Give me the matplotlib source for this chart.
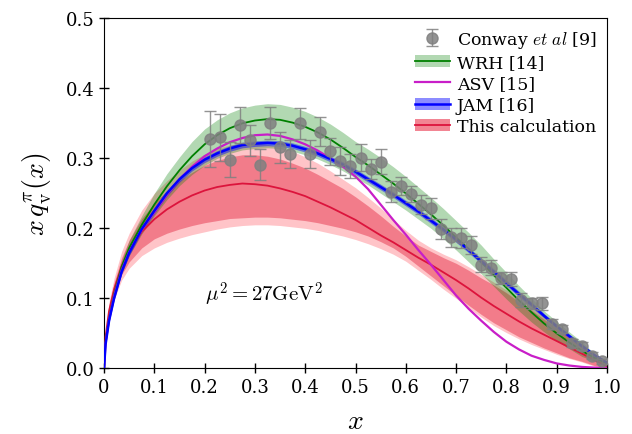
import matplotlib
matplotlib.use("Agg")
import matplotlib.pyplot as plt
from matplotlib.lines import Line2D
from matplotlib.patches import Patch

plt.rcParams["font.family"] = ["DejaVu Serif"]
plt.rcParams["mathtext.fontset"] = "cm"

# Conway et al. data
x_data = [0.21, 0.23, 0.25, 0.27, 0.29, 0.31, 0.33, 0.35, 0.37, 0.39,
          0.41, 0.43, 0.45, 0.47, 0.49, 0.51, 0.53, 0.55, 0.57, 0.59,
          0.61, 0.63, 0.65, 0.67, 0.69, 0.71, 0.73, 0.75, 0.77, 0.79,
          0.81, 0.83, 0.85, 0.87, 0.89, 0.91, 0.93, 0.95, 0.97, 0.99]
y_data = [0.327, 0.330, 0.298, 0.348, 0.326, 0.291, 0.351, 0.316, 0.306, 0.350,
          0.306, 0.338, 0.310, 0.296, 0.289, 0.301, 0.285, 0.295, 0.252, 0.261,
          0.249, 0.234, 0.229, 0.199, 0.187, 0.186, 0.176, 0.148, 0.144, 0.129,
          0.128, 0.098, 0.093, 0.093, 0.063, 0.056, 0.036, 0.032, 0.018, 0.010]
y_err = [0.040, 0.034, 0.025, 0.026, 0.022, 0.022, 0.023, 0.022, 0.020, 0.022,
         0.020, 0.021, 0.019, 0.020, 0.017, 0.019, 0.014, 0.018, 0.015, 0.013,
         0.012, 0.014, 0.015, 0.014, 0.014, 0.014, 0.013, 0.011, 0.011, 0.009,
         0.010, 0.010, 0.008, 0.009, 0.007, 0.006, 0.006, 0.006, 0.005, 0.004]

# common x grid for the curves
x_grid = [0.0, 0.003, 0.01, 0.02, 0.035, 0.05, 0.075, 0.1, 0.125, 0.15, 0.175,
          0.2, 0.225, 0.25, 0.275, 0.3, 0.325, 0.35, 0.375, 0.4, 0.425, 0.45,
          0.475, 0.5, 0.525, 0.55, 0.575, 0.6, 0.625, 0.65, 0.675, 0.7, 0.725,
          0.75, 0.775, 0.8, 0.825, 0.85, 0.875, 0.9, 0.925, 0.95, 0.975, 1.0]

# WRH
wrh_c = [0.0, 0.038, 0.072, 0.106, 0.145, 0.172, 0.205, 0.234, 0.260, 0.283, 0.303,
         0.320, 0.333, 0.343, 0.350, 0.354, 0.356, 0.355, 0.351, 0.345, 0.337, 0.327,
         0.315, 0.302, 0.290, 0.277, 0.264, 0.250, 0.235, 0.220, 0.204, 0.187, 0.170,
         0.152, 0.133, 0.115, 0.097, 0.080, 0.064, 0.050, 0.037, 0.025, 0.015, 0.007]
wrh_lo = [0.0, 0.035, 0.067, 0.099, 0.136, 0.161, 0.192, 0.218, 0.241, 0.261, 0.277,
          0.290, 0.300, 0.307, 0.312, 0.314, 0.315, 0.314, 0.310, 0.305, 0.299, 0.291,
          0.282, 0.272, 0.262, 0.250, 0.238, 0.226, 0.213, 0.200, 0.185, 0.169, 0.152,
          0.135, 0.117, 0.099, 0.082, 0.066, 0.052, 0.039, 0.028, 0.017, 0.010, 0.004]
wrh_hi = [0.0, 0.041, 0.077, 0.113, 0.154, 0.183, 0.218, 0.250, 0.278, 0.302, 0.324,
          0.342, 0.355, 0.365, 0.372, 0.376, 0.378, 0.377, 0.373, 0.367, 0.359, 0.349,
          0.337, 0.324, 0.313, 0.301, 0.288, 0.274, 0.259, 0.244, 0.228, 0.211, 0.194,
          0.176, 0.156, 0.137, 0.118, 0.100, 0.082, 0.067, 0.052, 0.038, 0.021, 0.010]

# ASV
asv_c = [0.0, 0.036, 0.070, 0.103, 0.140, 0.166, 0.198, 0.223, 0.248, 0.270, 0.288,
         0.303, 0.314, 0.323, 0.329, 0.333, 0.334, 0.332, 0.327, 0.320, 0.311, 0.300,
         0.288, 0.274, 0.256, 0.234, 0.212, 0.191, 0.169, 0.148, 0.126, 0.104, 0.085,
         0.068, 0.052, 0.038, 0.027, 0.018, 0.012, 0.007, 0.004, 0.002, 0.001, 0.0]

# JAM
jam_c = [0.0, 0.034, 0.068, 0.100, 0.138, 0.165, 0.199, 0.225, 0.250, 0.270, 0.286,
         0.298, 0.307, 0.314, 0.319, 0.321, 0.322, 0.321, 0.318, 0.313, 0.307, 0.299,
         0.291, 0.281, 0.270, 0.259, 0.248, 0.236, 0.224, 0.211, 0.198, 0.184, 0.169,
         0.153, 0.138, 0.122, 0.106, 0.091, 0.075, 0.060, 0.046, 0.032, 0.019, 0.008]
jam_lo = [0.0, 0.032, 0.065, 0.097, 0.135, 0.161, 0.195, 0.221, 0.246, 0.266, 0.282,
          0.294, 0.303, 0.310, 0.315, 0.317, 0.318, 0.317, 0.314, 0.309, 0.303, 0.295,
          0.287, 0.277, 0.266, 0.255, 0.244, 0.232, 0.220, 0.207, 0.194, 0.180, 0.165,
          0.149, 0.134, 0.118, 0.102, 0.087, 0.072, 0.057, 0.043, 0.029, 0.017, 0.006]
jam_hi = [0.0, 0.036, 0.071, 0.103, 0.141, 0.169, 0.203, 0.229, 0.254, 0.274, 0.290,
          0.302, 0.311, 0.318, 0.323, 0.325, 0.326, 0.325, 0.322, 0.317, 0.311, 0.303,
          0.295, 0.285, 0.274, 0.263, 0.252, 0.240, 0.228, 0.215, 0.202, 0.188, 0.173,
          0.157, 0.142, 0.126, 0.110, 0.095, 0.078, 0.063, 0.049, 0.035, 0.021, 0.010]

# This calculation: central value, inner and outer bands
calc_c = [0.0, 0.045, 0.082, 0.113, 0.146, 0.168, 0.195, 0.213, 0.227, 0.238, 0.247,
          0.254, 0.259, 0.262, 0.264, 0.263, 0.261, 0.257, 0.252, 0.246, 0.238, 0.230,
          0.221, 0.212, 0.201, 0.190, 0.180, 0.169, 0.158, 0.148, 0.137, 0.126, 0.114,
          0.101, 0.089, 0.078, 0.067, 0.057, 0.048, 0.039, 0.030, 0.021, 0.012, 0.003]
calc_in_lo = [0.0, 0.041, 0.076, 0.104, 0.134, 0.152, 0.172, 0.185, 0.193, 0.199, 0.204,
              0.208, 0.211, 0.214, 0.215, 0.216, 0.216, 0.215, 0.213, 0.211, 0.208, 0.204,
              0.200, 0.195, 0.189, 0.181, 0.172, 0.160, 0.146, 0.132, 0.118, 0.104, 0.090,
              0.077, 0.065, 0.055, 0.045, 0.037, 0.029, 0.022, 0.015, 0.010, 0.004, 0.0]
calc_in_hi = [0.0, 0.049, 0.089, 0.122, 0.158, 0.183, 0.214, 0.236, 0.254, 0.268, 0.280,
              0.290, 0.297, 0.302, 0.305, 0.305, 0.303, 0.299, 0.293, 0.286, 0.277, 0.267,
              0.257, 0.245, 0.232, 0.218, 0.203, 0.189, 0.176, 0.167, 0.158, 0.150, 0.140,
              0.129, 0.119, 0.108, 0.095, 0.083, 0.070, 0.057, 0.044, 0.031, 0.017, 0.004]
calc_out_lo = [0.0, 0.038, 0.071, 0.098, 0.126, 0.143, 0.161, 0.172, 0.180, 0.186, 0.191,
               0.195, 0.199, 0.202, 0.204, 0.205, 0.205, 0.204, 0.202, 0.200, 0.197, 0.193,
               0.189, 0.184, 0.178, 0.171, 0.163, 0.153, 0.140, 0.127, 0.113, 0.100, 0.086,
               0.073, 0.061, 0.051, 0.042, 0.034, 0.027, 0.020, 0.014, 0.009, 0.003, 0.0]
calc_out_hi = [0.0, 0.052, 0.095, 0.129, 0.167, 0.193, 0.226, 0.250, 0.268, 0.283, 0.296,
               0.306, 0.314, 0.319, 0.322, 0.322, 0.320, 0.316, 0.310, 0.302, 0.293, 0.282,
               0.270, 0.258, 0.244, 0.229, 0.213, 0.197, 0.183, 0.172, 0.163, 0.155, 0.145,
               0.134, 0.123, 0.112, 0.099, 0.087, 0.074, 0.061, 0.047, 0.033, 0.019, 0.005]

x_ticks = [0.0, 0.1, 0.2, 0.3, 0.4, 0.5, 0.6, 0.7, 0.8, 0.9, 1.0]
x_ticklabels = ["0", "0.1", "0.2", "0.3", "0.4", "0.5", "0.6", "0.7", "0.8", "0.9", "1.0"]
y_ticks = [0.0, 0.1, 0.2, 0.3, 0.4, 0.5]
y_ticklabels = ["0.0", "0.1", "0.2", "0.3", "0.4", "0.5"]

fig = plt.figure(figsize=(6.32, 4.35), dpi=100)
ax = fig.add_axes([0.1646, 0.151, 0.7958, 0.8046])

red_outer = "#ffc4c8"
red_inner = "#f07080"

ax.fill_between(x_grid, calc_out_lo, calc_out_hi, color=red_outer, lw=0, zorder=1)
ax.fill_between(x_grid, calc_in_lo, calc_in_hi, color=red_inner, lw=0, alpha=0.85, zorder=1.5)
ax.fill_between(x_grid, wrh_lo, wrh_hi, color="green", alpha=0.3, lw=0, zorder=2)
ax.fill_between(x_grid, jam_lo, jam_hi, color="blue", alpha=0.45, lw=0, zorder=3)

ax.plot(x_grid, calc_c, color="#dc143c", lw=1.3, zorder=4)
ax.plot(x_grid, wrh_c, color="green", lw=1.3, zorder=4)
ax.plot(x_grid, asv_c, color="#c81ec8", lw=1.6, zorder=4)
ax.plot(x_grid, jam_c, color="blue", lw=1.8, zorder=4)

eb = ax.errorbar(x_data, y_data, yerr=y_err, fmt="o", color="gray", ms=8,
                 ecolor="gray", elinewidth=1.0, capsize=4, capthick=1.0, alpha=0.85, zorder=5)

ax.text(0.2, 0.106, r"$\mu^2 = 27\mathrm{GeV}^2$", fontsize=15, va="center", ha="left")

ax.set_xlim(0, 1)
ax.set_ylim(0, 0.5)
ax.set_xticks(x_ticks)
ax.set_xticklabels(x_ticklabels)
ax.set_yticks(y_ticks)
ax.set_yticklabels(y_ticklabels)
ax.tick_params(direction="inout", length=7, width=1, labelsize=13)
ax.set_xlabel(r"$x$", fontsize=20, labelpad=8)
ax.set_ylabel(r"$x\,q_{\rm v}^{\pi}(x)$", fontsize=20, labelpad=8)

h_wrh = (Patch(facecolor="green", alpha=0.3, lw=0), Line2D([], [], color="green", lw=1.3))
h_asv = Line2D([], [], color="#c81ec8", lw=1.6)
h_jam = (Patch(facecolor="blue", alpha=0.45, lw=0), Line2D([], [], color="blue", lw=1.8))
h_calc = (Patch(facecolor=red_inner, alpha=0.85, lw=0), Line2D([], [], color="#dc143c", lw=1.3))
ax.legend([eb, h_wrh, h_asv, h_jam, h_calc],
          [r"Conway $et\ al$ [9]", "WRH [14]", "ASV [15]", "JAM [16]", "This calculation"],
          loc="upper right", frameon=False, fontsize=12.5, handlelength=2.0,
          borderaxespad=0.2, labelspacing=0.25, handletextpad=0.4)

fig.savefig("out.png", dpi=100)
